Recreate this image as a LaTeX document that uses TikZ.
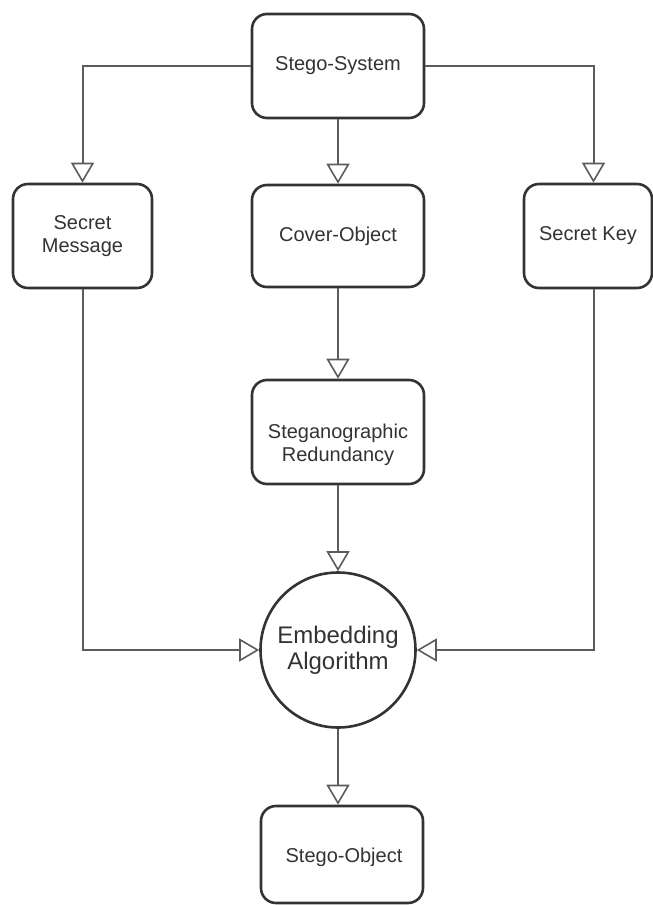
\documentclass[tikz,border=0pt]{standalone}
\usepackage{fontspec}
\setmainfont{Liberation Sans}
\usetikzlibrary{arrows.meta}
\definecolor{boxline}{HTML}{333333}
\definecolor{connline}{HTML}{5C5C5C}
\definecolor{txt}{HTML}{333333}
\begin{document}
\begin{tikzpicture}[x=1pt,y=-1pt,
  box/.style={draw=boxline, line width=2.6pt, rounded corners=15pt, fill=white,
    text=txt, align=center, inner sep=0pt,
    font=\fontsize{20}{23}\selectfont},
  bubble/.style={draw=boxline, line width=2.6pt, circle, fill=white, text=txt,
    align=center, inner sep=0pt, minimum size=155pt,
    font=\fontsize{24}{26}\selectfont},
  conn/.style={draw=connline, line width=2pt,
    -{Triangle[open, length=20pt, width=23pt, fill=white, line width=1.6pt]}},
  lbl/.style={text=txt, align=center, font=\fontsize{20}{23}\selectfont}
]
\useasboundingbox (0,0) rectangle (653,905);

% boxes
\node[box, minimum width=172pt, minimum height=104pt] (sys) at (338,66) {Stego-System};
\node[box, minimum width=139pt, minimum height=104pt] (msg) at (82.5,236) {Secret\\Message};
\node[box, minimum width=172pt, minimum height=102pt] (cover) at (338,236) {Cover-Object};
\node[box, minimum width=128pt, minimum height=104pt] (key) at (588,236) {Secret Key};
\node[box, minimum width=172pt, minimum height=104pt] (red) at (338,432) {};
\node[lbl] (redtext) at (338,445) {Steganographic\\Redundancy};
\node[bubble] (emb) at (338,650) {Embedding\\Algorithm};
\node[box, minimum width=162pt, minimum height=97pt] (obj) at (342,854.5) {};
\node[lbl] (objtext) at (344,857) {Stego-Object};

% connectors
\draw[conn] (sys.west) -| (msg.north);
\draw[conn] (sys.east) -| ([xshift=5.5pt]key.north);
\draw[conn] (sys.south) -- (cover.north);
\draw[conn] (cover.south) -- (red.north);
\draw[conn] (red.south) -- (emb.north);
\draw[conn] (msg.south) |- (emb.west);
\draw[conn] ([xshift=5.5pt]key.south) |- (emb.east);
\draw[conn] (emb.south) -- (emb.south |- obj.north);
\end{tikzpicture}
\end{document}
